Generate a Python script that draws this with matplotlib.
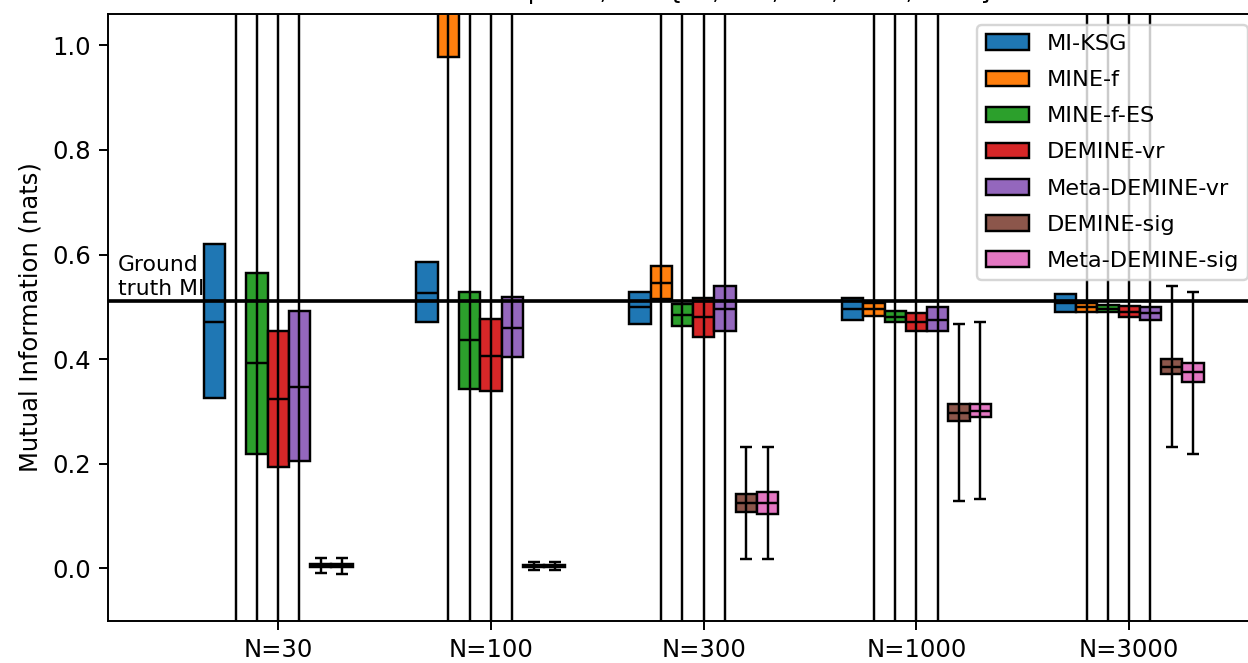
import numpy as np
import matplotlib
matplotlib.use("Agg")
import matplotlib.pyplot as plt

# box = (q1, median, q3), whiskers = (lo, hi), one value per sample size
methods = ['MI-KSG', 'MINE-f', 'MINE-f-ES', 'DEMINE-vr', 'Meta-DEMINE-vr',
           'DEMINE-sig', 'Meta-DEMINE-sig']
n_labels = ['N=30', 'N=100', 'N=300', 'N=1000', 'N=3000']
gt_mi = 0.5108

q1 = {
    'MI-KSG':          [0.325, 0.471, 0.467, 0.475, 0.490],
    'MINE-f':          [1.250, 0.977, 0.515, 0.483, 0.490],
    'MINE-f-ES':       [0.218, 0.343, 0.464, 0.471, 0.490],
    'DEMINE-vr':       [0.193, 0.340, 0.443, 0.454, 0.480],
    'Meta-DEMINE-vr':  [0.206, 0.404, 0.454, 0.454, 0.475],
    'DEMINE-sig':      [0.003, 0.003, 0.107, 0.282, 0.371],
    'Meta-DEMINE-sig': [0.003, 0.003, 0.104, 0.290, 0.357],
}
med = {
    'MI-KSG':          [0.471, 0.526, 0.500, 0.496, 0.507],
    'MINE-f':          [1.600, 1.150, 0.545, 0.496, 0.499],
    'MINE-f-ES':       [0.392, 0.436, 0.485, 0.481, 0.496],
    'DEMINE-vr':       [0.324, 0.407, 0.481, 0.471, 0.491],
    'Meta-DEMINE-vr':  [0.346, 0.460, 0.496, 0.474, 0.488],
    'DEMINE-sig':      [0.005, 0.005, 0.125, 0.298, 0.385],
    'Meta-DEMINE-sig': [0.005, 0.005, 0.125, 0.301, 0.375],
}
q3 = {
    'MI-KSG':          [0.620, 0.585, 0.528, 0.517, 0.524],
    'MINE-f':          [2.000, 1.300, 0.578, 0.507, 0.507],
    'MINE-f-ES':       [0.564, 0.528, 0.506, 0.492, 0.503],
    'DEMINE-vr':       [0.453, 0.477, 0.517, 0.488, 0.502],
    'Meta-DEMINE-vr':  [0.493, 0.518, 0.539, 0.499, 0.499],
    'DEMINE-sig':      [0.008, 0.007, 0.142, 0.314, 0.400],
    'Meta-DEMINE-sig': [0.008, 0.007, 0.147, 0.314, 0.392],
}
# MI-KSG has no whiskers
lo = {
    'MINE-f':          [-3.0, -2.0, -1.5, -1.0, -1.0],
    'MINE-f-ES':       [-2.0, -1.5, -1.0, -1.0, -1.0],
    'DEMINE-vr':       [-2.0, -1.5, -1.0, -1.0, -1.0],
    'Meta-DEMINE-vr':  [-2.0, -1.5, -1.0, -1.0, -1.0],
    'DEMINE-sig':      [-0.009, -0.003, 0.018, 0.129, 0.233],
    'Meta-DEMINE-sig': [-0.010, -0.003, 0.018, 0.132, 0.218],
}
hi = {
    'MINE-f':          [5.0, 4.0, 3.0, 2.5, 2.5],
    'MINE-f-ES':       [3.0, 2.5, 2.0, 2.0, 2.0],
    'DEMINE-vr':       [3.0, 2.5, 2.0, 2.0, 2.0],
    'Meta-DEMINE-vr':  [3.0, 2.5, 2.0, 2.0, 2.0],
    'DEMINE-sig':      [0.0195, 0.013, 0.232, 0.467, 0.539],
    'Meta-DEMINE-sig': [0.020, 0.013, 0.232, 0.471, 0.528],
}

colors = plt.rcParams['axes.prop_cycle'].by_key()['color']

fig = plt.figure(figsize=(1248 / 175, 663 / 175), dpi=175)
ax = fig.add_axes([108 / 1248, 42.3 / 663, 1151 / 1248, 606.7 / 663])

x = np.arange(len(n_labels))
w = 0.1
for i, m in enumerate(methods):
    xs = x + (i - 3) * w
    b = np.array(q1[m])
    t = np.array(q3[m])
    ax.bar(xs, t - b, bottom=b, width=w, color=colors[i], edgecolor='black',
           linewidth=1, label=m, zorder=2)
    ax.hlines(med[m], xs - w / 2, xs + w / 2, color='black', linewidth=1, zorder=3)
    if m in lo:
        c = np.array(med[m])
        ax.errorbar(xs, c, yerr=[c - np.array(lo[m]), np.array(hi[m]) - c],
                    fmt='none', ecolor='black', elinewidth=1, capsize=2.5,
                    capthick=1, zorder=4)

ax.axhline(gt_mi, color='black', linewidth=1.5, zorder=5)
ax.text(-0.755, gt_mi + 0.005, 'Ground\ntruth MI', fontsize=9, ha='left', va='bottom')

ax.set_xticks(x)
ax.set_xticklabels(n_labels)
ax.set_xlim(-0.8, 4.61)
ax.set_ylim(-0.1, 1.06)
ax.set_ylabel('Mutual Information (nats)')
# title is mostly cropped away in the reference, only descenders show
ax.set_title('2D Gaussian ρ=0.8, N ∈ {30, 100, 300, 1000, 3000}', fontsize=9.7)
ax.legend(loc='upper right', fontsize=9.2, labelspacing=0.72, handlelength=1.9)

fig.savefig('out.png', dpi=175)
